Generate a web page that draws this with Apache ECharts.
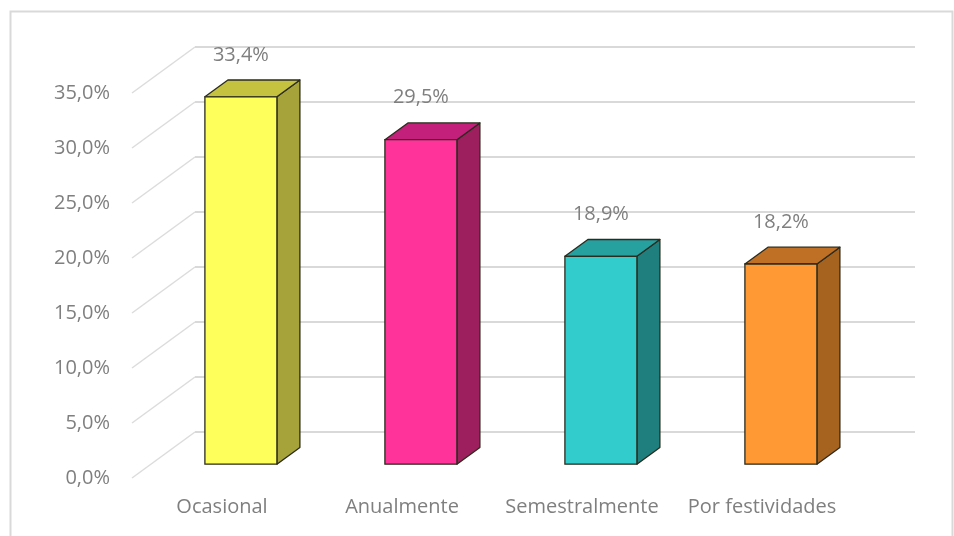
<!DOCTYPE html>
<html>
<head>
<meta charset="utf-8">
<script src="https://cdn.jsdelivr.net/npm/echarts@6/dist/echarts.min.js"></script>
<style>
  html, body { margin: 0; padding: 0; background: #ffffff; }
  #chart { width: 954px; height: 536px; }
</style>
</head>
<body>
<div id="chart"></div>
<script>
// Frequency categories and their shares (%)
const categories = ['Ocasional', 'Anualmente', 'Semestralmente', 'Por festividades'];
const values = [33.4, 29.5, 18.9, 18.2];
const yTicks = [0, 5, 10, 15, 20, 25, 30, 35];

// Face colours per bar: front, side, top
const frontColors = ['#FFFF5C', '#FF3399', '#33CCCC', '#FF9933'];
const sideColors  = ['#A6A33A', '#9E1F5E', '#1F7E7E', '#A6621F'];
const topColors   = ['#C4C23F', '#C2207A', '#27A0A0', '#C07024'];

// 3D projection: offset of the back wall from the front plane (px)
const DEPTH = [63, -46];
const BAR_FRONT = 0.30;   // depth fraction where bar front face sits
const BAR_DEPTH = 0.365;  // depth fraction taken by a bar
const BAR_WIDTH = 72;

const fmt = v => v.toFixed(1).replace('.', ',') + '%';
const textColor = '#7f7f7f';
const font = '"Open Sans", Lato, sans-serif';
const fontSize = 20;

const chart = echarts.init(document.getElementById('chart'), null, { renderer: 'canvas' });

const option = {
  backgroundColor: '#ffffff',
  animation: false,
  graphic: [{
    type: 'rect',
    shape: { x: 10.5, y: 11.5, width: 942, height: 530 },
    style: { fill: 'none', stroke: '#d9d9d9', lineWidth: 2 },
    silent: true, z: -10
  }],
  grid: { left: 132, right: 102, top: 93, bottom: 58 },
  xAxis: {
    type: 'category',
    data: categories,
    axisLine: { show: false },
    axisTick: { show: false },
    axisLabel: { color: textColor, fontFamily: font, fontSize: fontSize, margin: 19, interval: 0 }
  },
  yAxis: {
    type: 'value',
    min: 0, max: 35, interval: 5,
    axisLine: { show: false },
    axisTick: { show: false },
    splitLine: { show: false },
    axisLabel: { color: textColor, fontFamily: font, fontSize: fontSize, margin: 22, formatter: v => fmt(v) }
  },
  series: [
    {
      // back wall gridlines and floor/wall diagonals
      type: 'custom',
      data: [0],
      silent: true,
      z: 1,
      renderItem: function (params, api) {
        const cs = params.coordSys;
        const children = [];
        yTicks.forEach(function (t) {
          const y = api.coord([0, t])[1];
          children.push({
            type: 'line',
            shape: { x1: cs.x + DEPTH[0], y1: y + DEPTH[1], x2: cs.x + cs.width + DEPTH[0], y2: y + DEPTH[1] },
            style: { stroke: '#d9d9d9', lineWidth: 2 }
          });
          children.push({
            type: 'line',
            shape: { x1: cs.x, y1: y, x2: cs.x + DEPTH[0], y2: y + DEPTH[1] },
            style: { stroke: '#dcdcdc', lineWidth: 1.5 }
          });
        });
        return { type: 'group', children: children };
      }
    },
    {
      // 3D bars
      type: 'custom',
      data: values.map((v, i) => [i, v]),
      z: 2,
      renderItem: function (params, api) {
        const i = api.value(0);
        const v = api.value(1);
        const base = api.coord([i, 0]);
        const top = api.coord([i, v]);
        const ox = DEPTH[0] * BAR_FRONT, oy = DEPTH[1] * BAR_FRONT;
        const dx = DEPTH[0] * BAR_DEPTH, dy = DEPTH[1] * BAR_DEPTH;
        const xl = base[0] + ox - BAR_WIDTH / 2;
        const xr = base[0] + ox + BAR_WIDTH / 2;
        const yb = base[1] + oy;
        const yt = top[1] + oy;
        const stroke = '#2b2b1e';
        return {
          type: 'group',
          children: [
            {
              type: 'polygon',
              shape: { points: [[xr, yt], [xr + dx, yt + dy], [xr + dx, yb + dy], [xr, yb]] },
              style: { fill: sideColors[i], stroke: stroke, lineWidth: 1.3, lineJoin: 'round' }
            },
            {
              type: 'polygon',
              shape: { points: [[xl, yt], [xl + dx, yt + dy], [xr + dx, yt + dy], [xr, yt]] },
              style: { fill: topColors[i], stroke: stroke, lineWidth: 1.3, lineJoin: 'round' }
            },
            {
              type: 'rect',
              shape: { x: xl, y: yt, width: BAR_WIDTH, height: yb - yt },
              style: { fill: frontColors[i], stroke: stroke, lineWidth: 1.3 }
            },
            {
              type: 'text',
              style: {
                text: fmt(v),
                x: (xl + xr) / 2,
                y: yt - 42,
                align: 'center',
                verticalAlign: 'middle',
                fill: textColor,
                font: fontSize + 'px ' + font
              }
            }
          ]
        };
      }
    }
  ]
};

chart.setOption(option);
</script>
</body>
</html>
